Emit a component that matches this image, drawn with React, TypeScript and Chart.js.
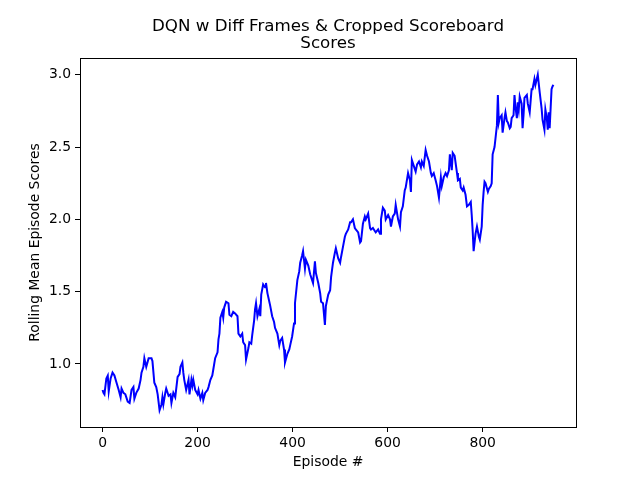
import React, { useEffect, useRef } from "react";
import { Chart, registerables } from "chart.js";

Chart.register(...registerables);

const chartTitle = ["DQN w Diff Frames & Cropped Scoreboard", "Scores"];
const xLabel = "Episode #";
const yLabel = "Rolling Mean Episode Scores";
const xTicks = [0, 200, 400, 600, 800];
const yTicks = [1.0, 1.5, 2.0, 2.5, 3.0];

const episodes = [
  0, 2, 4, 8, 11, 13, 17, 21, 25, 29, 34, 38, 40, 44, 48, 53, 57, 61, 65, 67,
  71, 76, 80, 82, 86, 88, 92, 97, 103, 105, 109, 113, 116, 120, 124, 126, 128, 132, 134, 139,
  143, 145, 149, 153, 158, 162, 164, 168, 170, 172, 176, 181, 183, 187, 189, 191, 195, 200, 202, 206,
  210, 212, 216, 221, 223, 227, 231, 233, 237, 242, 244, 246, 248, 252, 254, 256, 260, 265, 267, 271,
  275, 279, 284, 286, 290, 294, 296, 300, 302, 307, 309, 313, 315, 319, 321, 323, 326, 330, 332, 334,
  338, 342, 344, 347, 351, 353, 357, 361, 363, 368, 372, 374, 378, 382, 384, 389, 393, 395, 399, 403,
  405, 410, 414, 416, 420, 422, 426, 428, 433, 437, 439, 443, 447, 449, 454, 458, 460, 464, 468, 470,
  475, 479, 481, 485, 489, 491, 496, 500, 502, 506, 510, 512, 517, 521, 523, 527, 531, 533, 538, 542,
  544, 548, 552, 554, 559, 563, 565, 569, 573, 575, 580, 584, 586, 590, 594, 596, 601, 605, 607, 611,
  615, 617, 622, 626, 628, 632, 636, 638, 643, 647, 649, 651, 655, 659, 662, 666, 670, 672, 676, 680,
  683, 687, 691, 693, 697, 701, 704, 708, 712, 714, 718, 722, 725, 729, 731, 735, 737, 741, 746, 748,
  752, 754, 758, 760, 764, 767, 771, 775, 777, 779, 781, 785, 788, 792, 794, 798, 800, 802, 804, 806,
  811, 813, 817, 819, 821, 825, 830, 832, 834, 836, 840, 842, 846, 848, 851, 853, 857, 859, 861, 865,
  867, 869, 872, 874, 876, 878, 882, 884, 886, 888, 893, 895, 899, 903, 905, 909, 911, 916, 920, 924,
  926, 930, 932, 935, 937, 939, 941, 945, 947, 949,
];

const scores = [
  0.82, 0.8, 0.79, 0.9, 0.92, 0.81, 0.9, 0.94, 0.92, 0.875, 0.82, 0.77, 0.83, 0.8, 0.79, 0.74, 0.73, 0.82, 0.84, 0.76,
  0.8, 0.83, 0.89, 0.94, 0.98, 1.04, 0.98, 1.04, 1.04, 1.02, 0.87, 0.84, 0.79, 0.68, 0.72, 0.77, 0.72, 0.8, 0.83, 0.78,
  0.79, 0.73, 0.8, 0.77, 0.91, 0.93, 0.98, 1.01, 0.94, 0.89, 0.82, 0.89, 0.79, 0.89, 0.85, 0.89, 0.82, 0.79, 0.82, 0.76,
  0.8, 0.75, 0.8, 0.82, 0.84, 0.89, 0.92, 0.96, 1.04, 1.08, 1.17, 1.21, 1.32, 1.36, 1.32, 1.39, 1.43, 1.42, 1.34, 1.33,
  1.36, 1.35, 1.33, 1.21, 1.19, 1.21, 1.15, 1.13, 1.03, 1.11, 1.15, 1.14, 1.2, 1.3, 1.38, 1.42, 1.33, 1.38, 1.33, 1.48,
  1.55, 1.53, 1.56, 1.49, 1.43, 1.4, 1.33, 1.29, 1.25, 1.21, 1.13, 1.16, 1.18, 1.1, 1.01, 1.07, 1.1, 1.13, 1.19, 1.28,
  1.42, 1.58, 1.64, 1.7, 1.75, 1.78, 1.66, 1.72, 1.68, 1.62, 1.6, 1.56, 1.71, 1.63, 1.56, 1.49, 1.43, 1.42, 1.27, 1.4,
  1.48, 1.51, 1.6, 1.7, 1.77, 1.8, 1.73, 1.7, 1.74, 1.81, 1.88, 1.9, 1.93, 1.98, 1.98, 2.0, 1.94, 1.93, 1.91, 1.84,
  1.85, 1.97, 2.02, 2.0, 2.04, 1.94, 1.93, 1.94, 1.92, 1.91, 1.93, 1.9, 2.0, 2.08, 2.06, 2.0, 2.03, 2.0, 1.95, 2.02,
  2.04, 2.1, 2.0, 1.95, 2.05, 2.09, 2.2, 2.22, 2.32, 2.27, 2.19, 2.41, 2.37, 2.33, 2.38, 2.4, 2.36, 2.4, 2.37, 2.48,
  2.44, 2.4, 2.32, 2.3, 2.32, 2.27, 2.23, 2.15, 2.29, 2.23, 2.29, 2.32, 2.3, 2.34, 2.45, 2.34, 2.46, 2.44, 2.32, 2.27,
  2.28, 2.22, 2.2, 2.22, 2.17, 2.09, 2.1, 2.12, 2.03, 1.92, 1.78, 1.9, 1.95, 1.88, 1.86, 1.95, 2.1, 2.19, 2.26, 2.25,
  2.19, 2.21, 2.23, 2.25, 2.45, 2.5, 2.65, 2.86, 2.67, 2.7, 2.72, 2.6, 2.7, 2.74, 2.68, 2.67, 2.63, 2.64, 2.7, 2.72,
  2.86, 2.78, 2.7, 2.81, 2.76, 2.85, 2.8, 2.63, 2.72, 2.84, 2.86, 2.8, 2.74, 2.9, 2.9, 2.97, 2.93, 3.0, 2.88, 2.77,
  2.69, 2.62, 2.76, 2.7, 2.62, 2.74, 2.63, 2.9, 2.92, 2.93,
];

const FONT = '"DejaVu Sans", sans-serif';

const decorPlugin = {
  id: "decor",
  afterDraw(chart: any) {
    const ctx = chart.ctx;
    const { left, right, top, bottom } = chart.chartArea;
    ctx.save();
    ctx.strokeStyle = "#000";
    ctx.lineWidth = 1;
    ctx.strokeRect(Math.round(left) + 0.5, Math.round(top) + 0.5, Math.round(right - left), Math.round(bottom - top));
    ctx.fillStyle = "#000";
    ctx.textAlign = "center";
    ctx.textBaseline = "middle";
    const cx = (left + right) / 2;
    ctx.font = `16.7px ${FONT}`;
    ctx.fillText(chartTitle[0], cx, 27);
    ctx.fillText(chartTitle[1], cx, 44);
    ctx.font = `13.9px ${FONT}`;
    ctx.fillText(xLabel, cx, 462);
    ctx.translate(35, (top + bottom) / 2);
    ctx.rotate(-Math.PI / 2);
    ctx.fillText(yLabel, 0, 0);
    ctx.restore();
  },
};

export default function App() {
  const ref = useRef<HTMLCanvasElement>(null);
  useEffect(() => {
    document.body.style.margin = "0";
    const n = episodes.length;
    const xMax = episodes[n - 1];
    const xPad = xMax * 0.05;
    const yMinD = Math.min(...scores);
    const yMaxD = Math.max(...scores);
    const yPad = (yMaxD - yMinD) * 0.05;
    const chart = new Chart(ref.current!, {
      type: "line",
      data: {
        datasets: [
          {
            data: episodes.map((e, i) => ({ x: e, y: scores[i] })),
            borderColor: "#0000ff",
            borderWidth: 2,
            pointRadius: 0,
            tension: 0,
            fill: false,
          },
        ],
      },
      options: {
        animation: false,
        responsive: false,
        devicePixelRatio: 1,
        layout: { padding: { top: 58, right: 64, left: 0, bottom: 0 } },
        plugins: { legend: { display: false }, title: { display: false }, tooltip: { enabled: false } },
        scales: {
          x: {
            type: "linear",
            min: -xPad,
            max: xMax + xPad,
            afterFit: (s: any) => {
              s.height = 53;
            },
            afterBuildTicks: (s: any) => {
              s.ticks = xTicks.map((v) => ({ value: v }));
            },
            grid: { drawOnChartArea: false, drawTicks: true, tickLength: 5, color: "#000", lineWidth: 1 },
            border: { display: true, color: "#000", width: 1 },
            ticks: { color: "#000", font: { family: FONT, size: 13.9 }, padding: 3, maxRotation: 0, callback: (v: any) => String(v) },
          },
          y: {
            type: "linear",
            min: yMinD - yPad,
            max: yMaxD + yPad,
            afterFit: (s: any) => {
              s.width = 80;
            },
            afterBuildTicks: (s: any) => {
              s.ticks = yTicks.map((v) => ({ value: v }));
            },
            grid: { drawOnChartArea: false, drawTicks: true, tickLength: 5, color: "#000", lineWidth: 1 },
            border: { display: true, color: "#000", width: 1 },
            ticks: { color: "#000", font: { family: FONT, size: 13.9 }, padding: 4, callback: (v: any) => Number(v).toFixed(1) },
          },
        },
      },
      plugins: [decorPlugin],
    });
    return () => chart.destroy();
  }, []);
  return <canvas ref={ref} width={640} height={480} style={{ display: "block" }} />;
}
